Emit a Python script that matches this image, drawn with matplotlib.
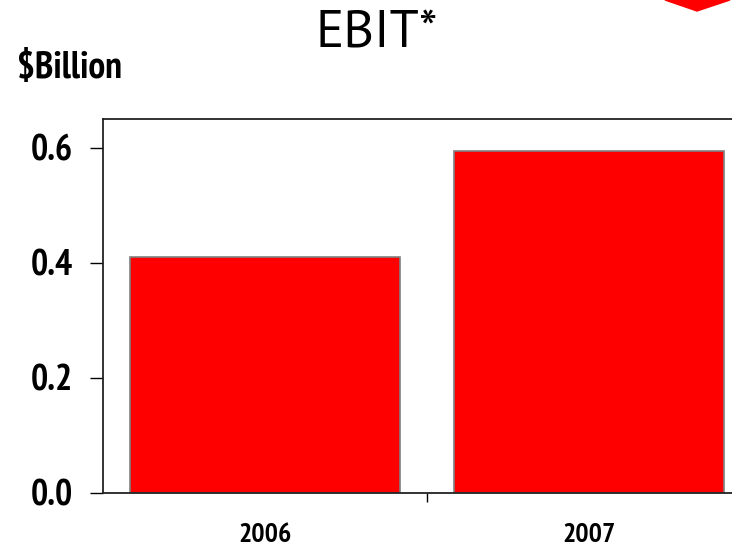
import matplotlib
matplotlib.use("Agg")
import matplotlib.pyplot as plt
from matplotlib.patches import Polygon

plt.rcParams['font.family'] = ['PT Sans Narrow', 'DejaVu Sans']

# Datos
anios = ["2006", "2007"]
ebit = [0.41, 0.595]
y_ticks = [0.0, 0.2, 0.4, 0.6]

W, H = 732, 546
fig = plt.figure(figsize=(W / 100, H / 100), dpi=100)
ax = fig.add_axes([103 / W, 1 - 493 / H, 648 / W, (493 - 119) / H])

x = list(range(len(anios)))
ax.bar(x, ebit, width=0.834, color="#ff0000", edgecolor="#808080", linewidth=1.2)

ax.set_xlim(-0.5, 1.5)
ax.set_ylim(0, 0.65)
ax.set_yticks(y_ticks)
ax.set_yticklabels([f"{v:.1f}" for v in y_ticks], fontsize=26, fontweight="bold")
ax.tick_params(axis="y", length=9.5, width=1, pad=12, direction="out")

# separador de categorías en el eje x
ax.set_xticks([0.5])
ax.set_xticklabels([""])
ax.tick_params(axis="x", length=6.5, width=1, direction="out")
for xi, lab in zip(x, anios):
    ax.text(xi, -(535 - 493) / (493 - 119), lab, transform=ax.get_xaxis_transform(),
            ha="center", va="center", fontsize=20, fontweight="bold")

ax.spines["right"].set_visible(False)
for s in ["left", "bottom", "top"]:
    ax.spines[s].set_color("#222222")
    ax.spines[s].set_linewidth(1.3)

fig.text(377 / W, 1 - 34 / H, "EBIT*", ha="center", va="center", fontsize=38,
         family=["PT Sans", "DejaVu Sans"])
fig.text(17 / W, 1 - 68 / H, "$Billion", ha="left", va="center", fontsize=27, fontweight="bold")

# flecha roja en la esquina
flecha = Polygon([(665, H), (697, H - 11), (730, H)], closed=True, color="#ff0000",
                 transform=None)
fig.patches.append(flecha)

fig.savefig("out.png", dpi=100)
